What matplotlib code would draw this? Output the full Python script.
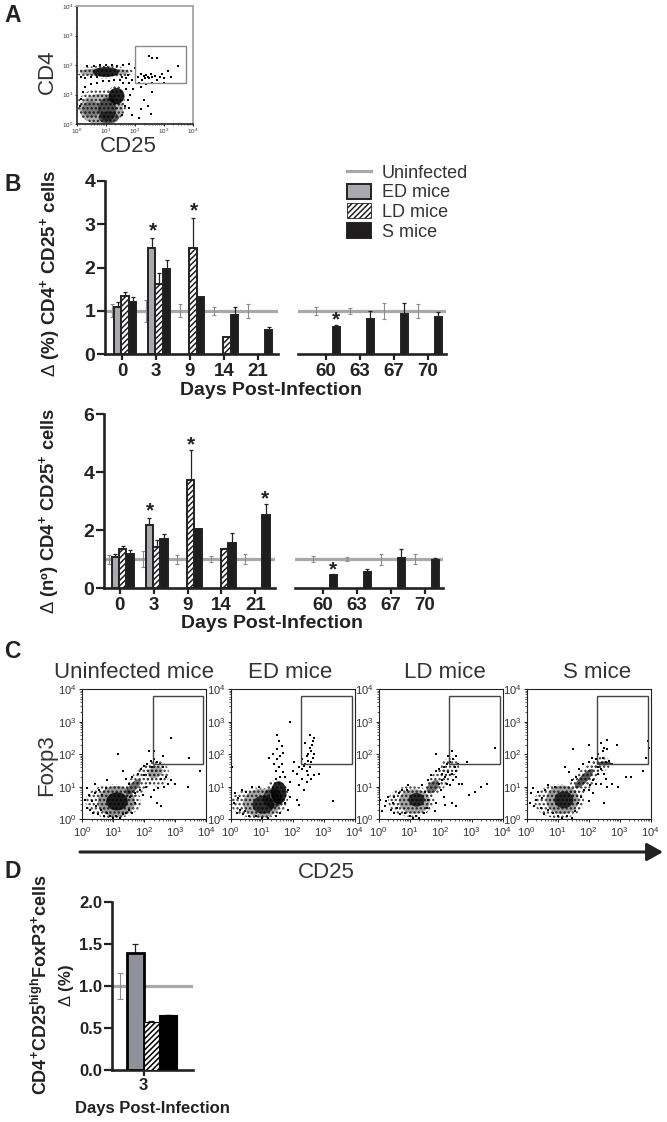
import numpy as np
import matplotlib
matplotlib.use("Agg")
import matplotlib.pyplot as plt
from matplotlib.patches import Patch, Rectangle, Ellipse, FancyArrowPatch
from matplotlib.lines import Line2D

W, H = 667, 1122
plt.rcParams.update({
    "font.family": ["Liberation Sans", "DejaVu Sans"],
    "mathtext.fontset": "custom",
    "mathtext.rm": "Liberation Sans",
    "mathtext.bf": "Liberation Sans:bold",
    "mathtext.default": "regular",
    "hatch.linewidth": 1.1,
    "hatch.color": "#222222",
})
nan = np.nan

# ---- panel B / D data ----
days_early = ["0", "3", "9", "14", "21"]
days_late = ["60", "63", "67", "70"]

pct_ed = [1.08, 2.45, nan, nan, nan, nan, nan, nan, nan]
pct_ed_top = [1.2, 2.68, nan, nan, nan, nan, nan, nan, nan]
pct_ld = [1.34, 1.62, 2.45, 0.4, nan, nan, nan, nan, nan]
pct_ld_top = [1.43, 1.87, 3.15, 0.4, nan, nan, nan, nan, nan]
pct_s = [1.2, 1.97, 1.33, 0.9, 0.55, 0.62, 0.82, 0.94, 0.87]
pct_s_top = [1.32, 2.17, 1.33, 1.08, 0.62, 0.68, 1.0, 1.18, 0.98]
pct_ctrl_err = [0.15, 0.26, 0.15, 0.09, 0.16, 0.09, 0.07, 0.18, 0.17]

num_ed = [1.09, 2.2, nan, nan, nan, nan, nan, nan, nan]
num_ed_top = [1.2, 2.42, nan, nan, nan, nan, nan, nan, nan]
num_ld = [1.35, 1.42, 3.72, 1.37, nan, nan, nan, nan, nan]
num_ld_top = [1.45, 1.65, 4.78, 1.4, nan, nan, nan, nan, nan]
num_s = [1.2, 1.7, 2.05, 1.57, 2.52, 0.47, 0.56, 1.06, 0.97]
num_s_top = [1.32, 1.87, 2.05, 1.9, 2.9, 0.5, 0.68, 1.36, 1.05]
num_ctrl_err = [0.15, 0.27, 0.15, 0.1, 0.17, 0.1, 0.07, 0.18, 0.17]

d_values = [1.39, 0.57, 0.65]
d_tops = [1.5, 0.58, 0.65]
d_ctrl_err = 0.155

# stars: (group index, x offset from tick, y in data units)
pct_stars = [(1, -0.09, 2.85), (2, 0.12, 3.3), (5, 0.29, 0.8)]
num_stars = [(1, -0.09, 2.67), (2, 0.09, 4.95), (4, 0.29, 3.08), (5, 0.3, 0.65)]

# ---- flow-cytometry data, log10 coordinates ----
# density regions: x, y, width, height, angle, alpha (alpha 0 = stippled region)
a_clouds = [(.95,1.76,2.0,.42,0,0),(.85,.6,1.7,1.2,0,0),(1.35,.9,.6,.8,0,0),
            (.95,1.76,1.7,.26,0,.35),(1.0,1.76,.9,.34,0,.8),(.85,.5,1.5,1.05,0,.3),(1.37,.95,.55,.55,0,.85),
            (1.05,.5,.62,.8,0,.55),(1.1,.22,.7,.42,0,.5),(.5,.5,.62,.55,0,.3)]
a_dots = [(2.1,1.6),(2.2,1.7),(2.25,1.5),(2.3,1.62),(2.35,1.55),(2.4,1.65),(2.45,1.6),(2.5,1.55),(2.55,1.7),
          (2.6,1.58),(2.7,1.62),(2.75,1.5),(2.85,1.6),(2.95,1.7),(3.0,1.55),(3.15,1.8),(3.25,1.6),(2.6,2.25),
          (2.5,2.3),(2.75,2.25),(3.5,1.95),(2.15,1.4),(2.4,1.35),(2.6,1.4),(3.0,1.4),(2.2,1.25),(2.3,.8),(2.45,.6),
          (2.2,.5),(2.6,1.1),(2.15,.2),(2.55,.35),(1.9,1.5),(1.8,1.4),(1.7,1.55),(1.95,1.2),(1.85,1.0),(1.75,.8),
          (1.7,1.2),(1.65,.6),(1.6,1.4),(1.55,.3),(1.8,.55),(1.9,.3),(1.5,1.5),(1.3,1.5),(1.1,1.45),(.9,1.45),
          (.7,1.4),(.5,1.35),(.3,1.25),(.2,1.1),(.15,.85),(.1,.6),(1.0,2.0),(.8,2.0),(.6,1.95),(1.2,2.0),(1.4,1.95),
          (1.6,2.0),(1.8,2.05),(2.0,1.9),(.35,1.95),(.15,1.6),(.3,1.55),(.5,1.6),(.7,1.6),(1.55,1.6),(1.75,1.65)]

c1_clouds = [(1.0,.55,1.8,1.05,0,0),(1.9,1.2,1.4,.6,45,0),(2.4,1.4,.8,.8,0,0),
             (1.1,.55,1.2,.95,0,.4),(1.12,.55,.7,.56,0,.8),(1.65,1.0,.62,.25,45,.55),(2.35,1.45,.5,.35,20,.35)]
c1_dots = [(.1,.6),(.15,.35),(.2,.75),(.25,.3),(.3,.55),(.35,.2),(.4,.8),(.45,.4),(.5,.15),(.55,.9),(.6,.3),(.65,.75),
           (.7,.1),(.75,.95),(.8,.2),(.9,.1),(1.0,.05),(1.1,.1),(1.2,.05),(1.3,.15),(1.4,.2),(1.5,.3),(1.6,.2),(1.7,.5),
           (1.55,.7),(1.7,.8),(1.5,1.1),(1.6,1.3),(1.8,1.4),(1.9,1.55),(2.0,1.65),(2.1,1.7),(2.2,1.8),(2.3,1.85),(2.4,1.75),
           (2.5,1.7),(2.6,1.6),(2.7,1.3),(2.75,1.1),(2.65,1.0),(2.45,.95),(2.3,.9),(2.2,.7),(2.4,.5),(2.55,.4),(2.05,1.0),
           (2.85,1.2),(3.0,1.1),(2.0,1.35),(2.25,1.6),(2.55,1.25),(1.85,.9),(1.95,.75),(2.6,1.95),(2.3,2.1),(2.85,2.5),
           (3.45,1.9),(2.15,2.1),(1.15,2.0),(3.8,1.5),(3.4,1.0),(.8,1.2),(.4,1.1),(1.3,1.5),(1.4,1.25),(.15,.95)]

c2_clouds = [(.9,.5,1.8,.95,0,0),(1.5,.8,.7,.85,30,0),
             (1.0,.5,1.2,.88,0,.35),(1.05,.45,.7,.56,0,.7),(1.55,.82,.5,.7,0,.85),(1.35,.65,.62,.62,0,.55)]
c2_dots = [(2.4,1.7),(2.35,1.65),(2.3,1.55),(2.45,1.5),(2.5,1.8),(2.55,1.6),(2.6,1.75),(2.65,1.9),(2.6,2.1),(2.55,2.2),(2.62,2.3),
           (2.7,2.0),(2.5,2.0),(2.45,1.95),(2.65,2.4),(2.7,2.5),(2.55,2.6),(2.4,2.35),(2.3,1.85),(2.2,1.6),(2.15,1.4),(2.5,1.35),
           (2.6,1.25),(2.7,1.35),(2.85,1.4),(2.3,1.25),(2.45,1.15),(2.2,1.05),(2.35,.9),(2.15,.6),(2.2,.45),(3.3,.55),(1.5,2.6),(1.55,2.4),
           (1.5,2.15),(1.65,2.25),(1.7,2.05),(1.6,1.95),(1.5,1.85),(1.65,1.7),(1.55,1.6),(1.7,1.45),(1.45,1.5),(1.35,2.0),(1.25,1.9),(1.4,1.7),
           (1.75,1.3),(1.6,1.3),(1.45,1.25),(1.9,1.15),(1.85,.9),(1.9,.7),(1.75,.5),(1.85,.3),(1.6,.2),(1.45,.1),(1.2,.05),(1.0,.05),(.8,.1),
           (.6,.1),(.4,.15),(.2,.2),(.1,.5),(.15,.8),(.35,.9),(.5,.85),(.7,1.0),(.9,1.0),(1.9,3.0),(2.0,1.5),(2.05,1.75),(.05,1.6),(.3,.3),(.25,.65),(.45,.25)]

c3_clouds = [(1.05,.55,1.5,.95,0,0),(1.9,1.15,1.1,.55,45,0),(2.3,1.6,.6,.55,0,0),
             (1.15,.55,1.0,.75,0,.35),(1.22,.6,.52,.42,0,.75),(1.75,1.0,.5,.3,45,.55)]
c3_dots = [(.1,.25),(.2,.4),(.25,.55),(.3,.7),(.4,.3),(.45,.5),(.5,.7),(.5,.2),(.6,.35),(.65,.8),(.7,.15),(.75,.9),(.85,.2),(.9,.9),(1.0,.1),
           (1.1,.05),(1.2,.1),(1.3,.05),(1.45,.2),(1.55,.35),(1.6,.6),(1.5,.85),(1.4,1.05),(1.6,1.2),(1.7,1.35),(1.85,1.5),(1.95,1.55),(2.05,1.4),
           (2.1,1.6),(2.2,1.7),(2.3,1.75),(2.4,1.85),(2.45,1.6),(2.5,1.5),(2.55,1.7),(2.5,1.3),(2.4,1.2),(2.3,1.05),(2.2,1.1),(2.0,.9),(2.1,.7),
           (1.95,1.1),(2.6,1.1),(2.7,1.1),(2.35,.5),(2.5,.4),(2.15,.45),(1.85,.5),(1.8,.25),(3.3,1.0),(3.5,1.1),(3.1,.85),(2.9,.75),(2.35,2.1),
           (2.25,1.95),(2.5,1.95),(1.85,2.0),(3.75,2.2),(2.85,1.75),(2.05,1.2),(2.25,1.45),(2.35,1.4),(2.15,1.3),(.05,.6),(.95,1.05)]

c4_clouds = [(1.05,.55,1.6,1.05,0,0),(1.85,1.2,1.4,.6,45,0),(2.4,1.7,.6,.45,0,0),
             (1.15,.6,1.05,.88,0,.38),(1.2,.6,.62,.52,0,.75),(1.85,1.25,.8,.25,45,.65),(2.5,1.72,.45,.12,0,.7)]
c4_dots = [(.1,.5),(.15,.8),(.2,.95),(.25,.4),(.3,.6),(.35,.85),(.45,.35),(.5,.65),(.55,.15),(.6,.9),(.7,.3),(.7,1.05),(.85,.2),(.9,1.0),(1.0,.1),(1.15,.05),
           (1.3,.1),(1.45,.05),(1.55,.25),(1.65,.5),(1.75,.7),(1.6,1.3),(1.45,1.2),(1.35,1.45),(1.25,1.6),(1.7,1.55),(1.8,1.7),(2.0,1.75),(2.1,1.9),(2.25,1.85),
           (2.3,2.0),(2.45,2.1),(2.5,2.2),(2.6,2.15),(2.4,1.55),(2.3,1.4),(2.15,1.2),(2.25,1.1),(2.4,1.1),(2.55,1.25),(2.6,1.0),(2.75,1.1),(2.95,1.0),(3.2,1.3),
           (3.35,1.3),(3.75,1.5),(2.5,.5),(2.0,.9),(2.15,.8),(2.0,.55),(1.85,.9),(2.05,1.05),(2.55,1.75),(2.65,1.8),(2.75,1.7),(2.3,1.6),(2.5,1.4),(2.0,2.3),
           (1.5,2.15),(2.9,2.3),(3.9,2.4),(3.85,1.9),(3.95,2.2),(2.6,2.45),(2.4,2.35),(2.45,1.9)]

c_titles = ["Uninfected mice", "ED mice", "LD mice", "S mice"]
c_lefts = [82.3, 230.7, 378.7, 526.7]
c_clouds = [c1_clouds, c2_clouds, c3_clouds, c4_clouds]
c_dots = [c1_dots, c2_dots, c3_dots, c4_dots]

GRAY = "#a9a9ab"
DARK = "#222222"
FILL = "#1f1d1e"
ED_FILL = "#a9aaae"

fig = plt.figure(figsize=(W / 100, H / 100), dpi=100, facecolor="white")


def px_axes(l, t, r, b):
    return fig.add_axes([l / W, 1 - b / H, (r - l) / W, (b - t) / H])


def fig_text(x, y, s, **kw):
    kw.setdefault("ha", "center")
    kw.setdefault("va", "center")
    return fig.text(x / W, 1 - y / H, s, **kw)


def style_bar_axes(ax, ylim, yticks, left):
    ax.set_ylim(*ylim)
    ax.patch.set_alpha(0)
    for s in ("top", "right"):
        ax.spines[s].set_visible(False)
    ax.spines["bottom"].set_linewidth(1.9)
    ax.spines["bottom"].set_color(DARK)
    ax.spines["left"].set_linewidth(1.9)
    ax.spines["left"].set_color(DARK)
    ax.tick_params(axis="x", length=4, width=1.6, color=DARK, pad=2, labelsize=13.5, labelcolor=DARK)
    ax.tick_params(axis="y", length=6, width=1.6, color=DARK, pad=1, labelsize=14, labelcolor=DARK)
    if left:
        ax.set_yticks(yticks)
    else:
        ax.spines["left"].set_visible(False)
        ax.set_yticks([])
    for t in ax.get_xticklabels() + ax.get_yticklabels():
        t.set_fontweight("bold")


OFF = [-0.12, 0.09, 0.31]
BW = 0.21
CTRL_OFF = -0.30


def group_panel(ax, idx, labels, ed, ed_top, ld, ld_top, s, s_top, ctrl):
    x = np.arange(len(labels), dtype=float)
    ax.axhline(1, color=GRAY, lw=2.3, zorder=1)
    ax.errorbar(x + CTRL_OFF, np.ones_like(x), yerr=np.array(ctrl)[idx], fmt="none", ecolor="#8d8d8d",
                elinewidth=0.8, capsize=1.5, capthick=0.8, zorder=1.5)
    series = [(ed, ed_top, ED_FILL, None), (ld, ld_top, "white", "//////"), (s, s_top, FILL, None)]
    for off, (val, top, fc, hatch) in zip(OFF, series):
        v, tp = np.array(val)[idx], np.array(top)[idx]
        ax.errorbar(x + off, v, yerr=[np.zeros_like(v), tp - v], fmt="none", ecolor=DARK, elinewidth=0.9,
                    capsize=1.5, capthick=0.9, zorder=2)
        ax.bar(x + off, v, width=BW, color=fc, edgecolor=DARK, linewidth=1.4, hatch=hatch, zorder=3)
    ax.set_xticks(x)
    ax.set_xticklabels(labels)


def stars(ax, items, first, n):
    for i, dx, y in items:
        if first <= i < first + n:
            ax.text(i - first + dx, y, "*", ha="center", va="center",
                    fontsize=15, fontweight="bold", color=DARK, zorder=5)


def bar_row(y_top, y_bot, ylim, yticks, lx, rx1, rx2, rx3, tick0, tick60, vals, star_items):
    early = np.arange(5)
    late = np.arange(5, 9)
    ax1 = px_axes(lx, y_top, rx1, y_bot)
    ax1.set_xlim((lx - tick0) / 34, (rx1 - tick0) / 34)
    group_panel(ax1, early, days_early, *vals)
    style_bar_axes(ax1, ylim, yticks, True)
    stars(ax1, star_items, 0, 5)
    ax2 = px_axes(rx2, y_top, rx3, y_bot)
    ax2.set_xlim((rx2 - tick60) / 34, (rx3 - tick60) / 34)
    group_panel(ax2, late, days_late, *vals)
    style_bar_axes(ax2, ylim, yticks, False)
    stars(ax2, star_items, 5, 4)
    return ax1, ax2


# Panel B, percent
bar_row(180.7, 354.3, (0, 4), [0, 1, 2, 3, 4], 105, 278, 298, 446, 122, 325.7,
        (pct_ed, pct_ed_top, pct_ld, pct_ld_top, pct_s, pct_s_top, pct_ctrl_err), pct_stars)
# Panel B, number
bar_row(414.3, 588.3, (0, 6), [0, 2, 4, 6], 104, 275, 295, 443, 119.5, 322.7,
        (num_ed, num_ed_top, num_ld, num_ld_top, num_s, num_s_top, num_ctrl_err), num_stars)

fig_text(271, 390, "Days Post-Infection", fontsize=14, fontweight="bold", color=DARK)
fig_text(272, 623, "Days Post-Infection", fontsize=14, fontweight="bold", color=DARK)
fig_text(50, 273, r"$\mathrm{\Delta}$ (%) CD4$^{+}$ CD25$^{+}$ cells", rotation=90, fontsize=13.5, fontweight="bold", color=DARK)
fig_text(49, 511, r"$\mathrm{\Delta}$ (nº) CD4$^{+}$ CD25$^{+}$ cells", rotation=90, fontsize=13.3, fontweight="bold", color=DARK)

handles = [
    Line2D([], [], color=GRAY, lw=2.3),
    Patch(facecolor=ED_FILL, edgecolor=DARK, lw=1.4),
    Patch(facecolor="white", edgecolor=DARK, hatch="//////", lw=0.6),
    Patch(facecolor=FILL, edgecolor=DARK, lw=1.4),
]
fig.legend(handles, ["Uninfected", "ED mice", "LD mice", "S mice"], loc="upper left",
           bbox_to_anchor=(333 / W, 1 - 149.5 / H), frameon=False, fontsize=13, labelcolor="#333333",
           handlelength=1.3, handleheight=0.9, handletextpad=0.61, labelspacing=0.11, borderpad=0.3)


# Flow-cytometry panels
def flow(ax, clouds, dots, gate, ticklab=8.0, gate_color="#444444"):
    for x, y, w, h, ang, alpha in clouds:
        if alpha == 0:
            ax.add_patch(Ellipse((x, y), w, h, angle=ang, fill=False, hatch="....", ec="#333333", lw=0, zorder=2))
        else:
            ax.add_patch(Ellipse((x, y), w, h, angle=ang, fc="black", ec="none", alpha=alpha, zorder=2))
    dx, dy = zip(*dots)
    ax.scatter(dx, dy, s=0.6, c="black", marker="s", linewidths=0, zorder=2)
    ax.set_xlim(0, 4)
    ax.set_ylim(0, 4)
    ax.add_patch(Rectangle((gate[0], gate[2]), gate[1] - gate[0], gate[3] - gate[2], fill=False,
                           ec=gate_color, lw=1.0, zorder=3))
    ticks = [0, 1, 2, 3, 4]
    labels = [f"$10^{{{t}}}$" for t in ticks]
    ax.set_xticks(ticks)
    ax.set_yticks(ticks)
    ax.set_xticklabels(labels)
    ax.set_yticklabels(labels)
    minor = [d + np.log10(m) for d in range(4) for m in range(2, 10)]
    ax.set_xticks(minor, minor=True)
    ax.set_yticks(minor, minor=True)
    ax.tick_params(which="major", length=2.5, width=0.7, labelsize=ticklab, labelcolor="#333333", pad=1.5, color=DARK)
    ax.tick_params(which="minor", length=1.3, width=0.5, color=DARK)
    for s in ax.spines.values():
        s.set_linewidth(0.8)
        s.set_color(DARK)


axA = px_axes(76.7, 6, 193, 124)
flow(axA, a_clouds, a_dots, (2.02, 3.76, 1.38, 2.63), ticklab=4.5, gate_color="#8a8a8a")
axA.tick_params(which="major", length=1.5, pad=0.8)
axA.tick_params(which="minor", length=0.8)
for s in ("top", "right"):
    axA.spines[s].set_color("#a5a5a5")
    axA.spines[s].set_linewidth(1.3)
axA.spines["left"].set_linewidth(1.2)
axA.spines["bottom"].set_linewidth(1.2)
fig_text(47, 72, "CD4", rotation=90, fontsize=16, color="#333333")
fig_text(128, 146, "CD25", fontsize=16, color="#333333")

for left, clouds, dots, title, x_title in zip(c_lefts, c_clouds, c_dots, c_titles, [134.5, 290, 445, 597]):
    ax = px_axes(left, 689.3, left + 124, 819.3)
    flow(ax, clouds, dots, (2.27, 3.9, 1.71, 3.78))
    fig_text(x_title, 673, title, fontsize=16, color="#333333")
fig_text(47, 765, "Foxp3", rotation=90, fontsize=16, color="#333333")
fig_text(326, 873, "CD25", fontsize=16, color="#333333")
fig.add_artist(FancyArrowPatch(
    (80 / W, 1 - 852 / H), (663 / W, 1 - 852 / H), transform=fig.transFigure, arrowstyle="-|>,head_length=8,head_width=4.5",
    mutation_scale=1.2, lw=2.2, color=DARK, shrinkA=0, shrinkB=0))

# Panel D
axD = px_axes(112, 901.7, 193, 1070)
axD.set_xlim((112 - 143.7) / 34, (193 - 143.7) / 34)
axD.axhline(1, color=GRAY, lw=2.3, zorder=1)
axD.errorbar([(119.7 - 143.7) / 34], [1], yerr=[d_ctrl_err], fmt="none", ecolor="#8d8d8d", elinewidth=0.8, capsize=2, capthick=0.8, zorder=1.5)
d_x = [-0.25, 0.22, 0.72]
d_w = [0.5, 0.44, 0.54]
d_err_lo = [0, 0, 0]
d_err_hi = [t - v for t, v in zip(d_tops, d_values)]
axD.errorbar(d_x, d_values, yerr=[d_err_lo, d_err_hi], fmt="none", ecolor=DARK, elinewidth=0.9, capsize=2, capthick=0.9, zorder=2)
axD.bar(d_x[0], d_values[0], width=d_w[0], color="#8f9099", edgecolor="black", linewidth=2.0, zorder=3)
axD.bar(d_x[1], d_values[1], width=d_w[1], color="white", edgecolor="black", linewidth=0.8, hatch="//////", zorder=3)
axD.bar(d_x[2], d_values[2], width=d_w[2], color="black", edgecolor="black", linewidth=0.8, zorder=3)
axD.set_xticks([0])
axD.set_xticklabels(["3"])
style_bar_axes(axD, (0, 2), [0, 0.5, 1.0, 1.5, 2.0], True)
axD.set_yticklabels(["0.0", "0.5", "1.0", "1.5", "2.0"], fontweight="bold")
axD.tick_params(axis="y", labelsize=12)
axD.tick_params(axis="x", labelsize=12)
fig_text(152, 1108, "Days Post-Infection", fontsize=12, fontweight="bold", color=DARK)
fig_text(41, 985, r"CD4$^{+}$CD25$^{high}$FoxP3$^{+}$cells", rotation=90, fontsize=13, fontweight="bold", color=DARK)
fig_text(67, 986, r"$\mathrm{\Delta}$ (%)", rotation=90, fontsize=12, fontweight="bold", color=DARK)

# Panel letters
for letter, y in zip("ABCD", [15, 184, 652, 872]):
    fig.text(4 / W, 1 - y / H, letter, fontsize=16.5, fontweight="bold", color=DARK, va="center", ha="left")

fig.savefig("out.png", dpi=100)
